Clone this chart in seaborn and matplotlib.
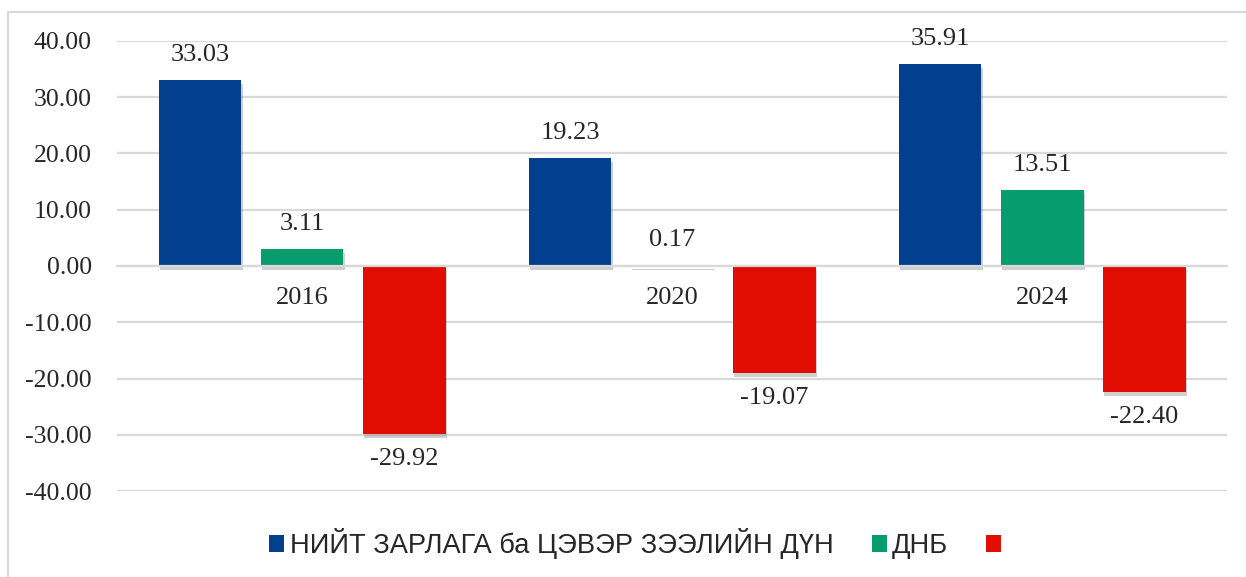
import numpy as np
import pandas as pd
import seaborn as sns
import matplotlib
import matplotlib.pyplot as plt
import matplotlib.patheffects as pe
from matplotlib.patches import Patch, Rectangle
matplotlib.use('Agg')

# chart data
years = ['2016', '2020', '2024']
series = ['Зарлага', 'ДНБ', 'Тэнцэл']
legend_labels = ['НИЙТ ЗАРЛАГА ба ЦЭВЭР ЗЭЭЛИЙН ДҮН', 'ДНБ', '']
spending = [33.03, 19.23, 35.91]
gdp = [3.11, 0.17, 13.51]
balance = [-29.92, -19.07, -22.40]
colors = ['#023f8e', '#079c6e', '#e20d02']

df = pd.DataFrame({
    'year': years * 3,
    'series': [series[0]] * 3 + [series[1]] * 3 + [series[2]] * 3,
    'value': spending + gdp + balance,
})

sns.set_style('white')
plt.rcParams['font.family'] = ['Liberation Serif', 'DejaVu Serif']

fig = plt.figure(figsize=(12.46, 5.77), dpi=100)
ax = fig.add_axes([0.0939, 0.149, 0.891, 0.78])

sns.barplot(data=df, x='year', y='value', hue='series', hue_order=series,
            palette=colors, width=0.828, gap=0.19, ax=ax, legend=False,
            saturation=1, errorbar=None)

shadow = [pe.SimplePatchShadow(offset=(1, -3), shadow_rgbFace='#666666', alpha=0.3),
          pe.Normal()]
for bar in ax.patches:
    bar.set_path_effects(shadow)
    bar.set_edgecolor('none')

for cont in ax.containers:
    ax.bar_label(cont, fmt='%.2f', padding=10, fontsize=19)

ax.set_ylim(-40, 40)
ax.set_xlim(-0.5, 2.5)
ax.set_yticks(np.arange(-40, 41, 10))
ax.set_yticklabels(['%.2f' % v for v in np.arange(-40, 41, 10)], fontsize=18.5)
ax.yaxis.grid(True, color='#d9d9d9', linewidth=1.6)
ax.set_axisbelow(True)
ax.set_xlabel('')
ax.set_ylabel('')
for s in ['top', 'right', 'left']:
    ax.spines[s].set_visible(False)
ax.spines['bottom'].set_position(('data', 0))
ax.spines['bottom'].set_color('#d9d9d9')
ax.spines['bottom'].set_linewidth(1.6)
ax.tick_params(axis='x', length=0, pad=15, labelsize=19)
ax.tick_params(axis='y', length=0, pad=18)

handles = [Patch(facecolor=c, edgecolor='none') for c in colors]
fig.legend(handles, legend_labels, loc='center', bbox_to_anchor=(0.512, 0.058),
           ncol=3, frameon=False, handlelength=0.55, handleheight=0.55,
           handletextpad=0.2, columnspacing=1.4,
           prop={'family': ['Liberation Sans', 'DejaVu Sans'], 'size': 19.6})

fig.patches.append(Rectangle((8 / 1246, -0.01), 1.0, 1 - 12 / 577 + 0.01,
                             transform=fig.transFigure, fill=False,
                             edgecolor='#d9d9d9', linewidth=1.5))

fig.savefig('out.png', dpi=100)
